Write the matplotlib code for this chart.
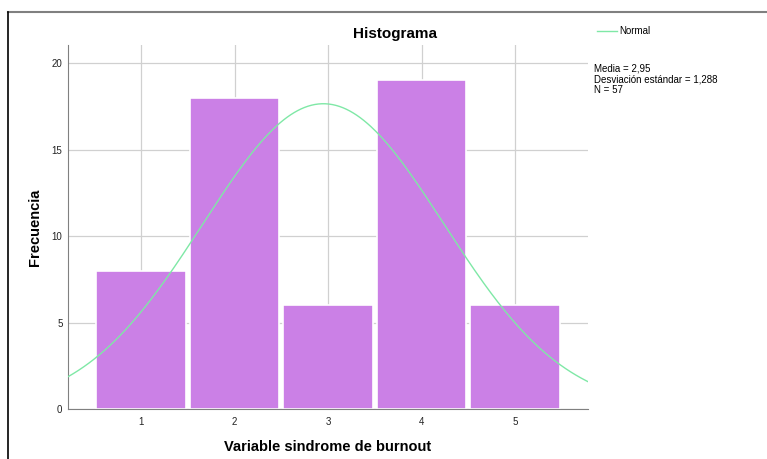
import numpy as np
import matplotlib.pyplot as plt
from matplotlib.lines import Line2D

plt.rcParams['font.family'] = ['Liberation Sans', 'DejaVu Sans']

# Données de l'histogramme
categories = [1, 2, 3, 4, 5]
frecuencias = [8, 18, 6, 19, 6]
media = 2.95
desviacion = 1.288
n_total = 57

color_barra = '#cb80e6'
color_normal = '#7fe8a6'

fig = plt.figure(figsize=(7.67, 4.59), dpi=100)
ax = fig.add_axes([0.0887, 0.1089, 0.678, 0.793])

ax.bar(categories, frecuencias, width=0.96, color=color_barra,
       edgecolor='white', linewidth=1.2, zorder=2)

# Courbe normale (N * largeur de classe * densité)
xlim = (0.22, 5.78)
xs = np.linspace(xlim[0], xlim[1], 300)
ys = n_total * 1.0 / (desviacion * np.sqrt(2 * np.pi)) * np.exp(-0.5 * ((xs - media) / desviacion) ** 2)
ax.plot(xs, ys, color=color_normal, linewidth=1.0, zorder=3)

ax.set_xlim(*xlim)
ax.set_ylim(0, 21.05)
ax.set_xticks(categories)
ax.set_yticks([0, 5, 10, 15, 20])
ax.tick_params(axis='both', length=0, labelsize=7, colors='#222222', pad=6)
ax.tick_params(axis='y', pad=4)
ax.grid(True, color='#d0d0d0', linewidth=0.9, zorder=0)
ax.set_axisbelow(True)

for s in ['top', 'right']:
    ax.spines[s].set_visible(False)
ax.spines['left'].set_color('#808080')
ax.spines['bottom'].set_color('#808080')

ax.set_xlabel('Variable sindrome de burnout', fontsize=10.5, fontweight='bold', labelpad=9)
ax.set_ylabel('Frecuencia', fontsize=10.5, fontweight='bold', labelpad=7)

fig.text(0.515, 0.925, 'Histograma', ha='center', va='center', fontsize=11, fontweight='bold')

# Légende et statistiques
fig.add_artist(Line2D([0.778, 0.805], [0.933, 0.933], color=color_normal, linewidth=1.0))
fig.text(0.808, 0.933, 'Normal', ha='left', va='center', fontsize=7)
fig.text(0.775, 0.862,
         f'Media = 2,95\nDesviación estándar = 1,288\nN = {n_total}',
         ha='left', va='top', fontsize=7, linespacing=1.1)

# Cadre
fig.add_artist(Line2D([0.0104, 1.0], [0.973, 0.973], color='#808080', linewidth=1.5))
fig.add_artist(Line2D([0.0104, 0.0104], [0.0, 0.973], color='black', linewidth=1.2))

fig.savefig('out.png', dpi=100)
